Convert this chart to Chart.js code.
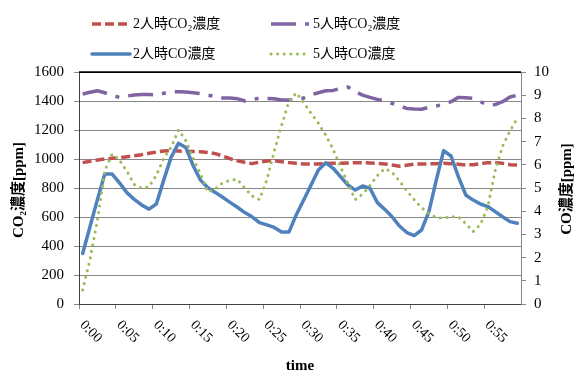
<!DOCTYPE html>
<html><head><meta charset="utf-8">
<script src="https://cdn.jsdelivr.net/npm/chart.js@4.4.1/dist/chart.umd.min.js"></script>
<style>html,body{margin:0;padding:0;background:#fff}</style>
</head><body>
<canvas id="c" width="575" height="374" style="width:575px;height:374px;display:block"></canvas>
<script>
// ---- data ----
const categories = ["0:00","0:01","0:02","0:03","0:04","0:05","0:06","0:07","0:08","0:09",
  "0:10","0:11","0:12","0:13","0:14","0:15","0:16","0:17","0:18","0:19",
  "0:20","0:21","0:22","0:23","0:24","0:25","0:26","0:27","0:28","0:29",
  "0:30","0:31","0:32","0:33","0:34","0:35","0:36","0:37","0:38","0:39",
  "0:40","0:41","0:42","0:43","0:44","0:45","0:46","0:47","0:48","0:49",
  "0:50","0:51","0:52","0:53","0:54","0:55","0:56","0:57","0:58","0:59"];
const xTickLabels = ["0:00","0:05","0:10","0:15","0:20","0:25","0:30","0:35","0:40","0:45","0:50","0:55"];
const leftTicks = [0,200,400,600,800,1000,1200,1400,1600];
const rightTicks = [0,1,2,3,4,5,6,7,8,9,10];

const seriesNames = ["2人時CO₂濃度","5人時CO₂濃度","2人時CO濃度","5人時CO濃度"];
const leftTitle = "CO₂濃度[ppm]";
const rightTitle = "CO濃度[ppm]";
const xTitle = "time";

const co2TwoPeople = [975,984,993,1000,1005,1009,1016,1023,1030,1039,
  1048,1055,1057,1055,1052,1052,1050,1045,1037,1021,
  1002,988,977,968,979,986,988,981,975,970,
  965,965,966,968,970,970,973,975,975,973,
  970,966,959,950,957,964,966,966,968,970,
  968,964,959,961,968,975,975,970,961,959];
const co2FivePeople = [1448,1460,1471,1457,1439,1425,1434,1441,1444,1444,
  1441,1453,1462,1464,1462,1457,1451,1441,1430,1420,
  1421,1416,1400,1409,1421,1418,1416,1407,1407,1412,
  1420,1443,1457,1471,1473,1487,1496,1464,1441,1425,
  1411,1402,1384,1366,1349,1345,1343,1356,1366,1377,
  1395,1425,1423,1418,1395,1372,1375,1395,1428,1440];
const coTwoPeople = [2.18,3.34,4.50,5.60,5.60,5.22,4.80,4.51,4.27,4.09,
  4.31,5.34,6.32,6.93,6.75,5.96,5.34,5.01,4.81,4.60,
  4.38,4.17,3.94,3.76,3.51,3.41,3.30,3.10,3.10,3.85,
  4.48,5.13,5.78,6.09,5.85,5.49,5.13,4.91,5.09,4.99,
  4.37,4.08,3.76,3.36,3.08,2.95,3.19,3.98,5.34,6.61,
  6.38,5.49,4.70,4.48,4.31,4.20,3.98,3.76,3.55,3.48];
const coFivePeople = [0.60,1.93,3.62,5.75,6.47,6.20,5.72,5.15,4.99,5.05,
  5.55,6.28,6.75,7.50,7.04,6.28,5.60,4.82,4.96,5.22,
  5.33,5.37,5.00,4.65,4.50,5.35,6.58,7.70,8.72,9.10,
  8.68,8.22,7.79,7.28,6.67,5.92,5.20,4.50,4.74,5.10,
  5.54,5.84,5.68,5.30,4.88,4.50,4.15,3.90,3.72,3.70,
  3.76,3.76,3.47,3.12,3.43,4.20,5.75,6.80,7.46,8.00];

// ---- styling ----
const SERIF = '"Liberation Serif", "Noto Sans CJK JP", serif';
const GRID = '#878787';

const legendPos = [
  {x0:92, x1:127, y:24, tx:133},
  {x0:271, x1:309, y:24, tx:313},
  {x0:92, x1:130, y:54, tx:133},
  {x0:271, x1:305, y:54, tx:313}
];

const overlay = {
  id: 'overlay',
  afterDraw(chart) {
    const ctx = chart.ctx;
    const xs = chart.scales.x;
    const area = chart.chartArea;
    // x tick labels rotated clockwise
    const half = (xs.getPixelForValue(1) - xs.getPixelForValue(0)) / 2;
    ctx.save();
    ctx.fillStyle = '#000';
    ctx.font = '14px ' + SERIF;
    ctx.textAlign = 'left';
    ctx.textBaseline = 'middle';
    xTickLabels.forEach(lbl => {
      const idx = categories.indexOf(lbl);
      const tx = xs.getPixelForValue(idx) - half;
      ctx.save();
      ctx.translate(tx + 3, 323);
      ctx.rotate(Math.PI / 4);
      ctx.fillText(lbl, 0, 0);
      ctx.restore();
    });
    ctx.restore();

    // axis titles
    ctx.save();
    ctx.fillStyle = '#000';
    ctx.font = 'bold 15px ' + SERIF;
    ctx.textAlign = 'center';
    ctx.textBaseline = 'middle';
    ctx.fillText(xTitle, 300, 366);
    ctx.save(); ctx.translate(19, 190); ctx.rotate(-Math.PI/2); ctx.fillText(leftTitle, 0, 0); ctx.restore();
    ctx.save(); ctx.translate(567, 189); ctx.rotate(-Math.PI/2); ctx.fillText(rightTitle, 0, 0); ctx.restore();
    ctx.restore();

    // top border of plot area
    ctx.save();
    ctx.strokeStyle = '#000';
    ctx.lineWidth = 1.5;
    ctx.beginPath();
    ctx.moveTo(area.left, area.top); ctx.lineTo(area.right, area.top);
    ctx.stroke();
    ctx.restore();

    // legend
    chart.data.datasets.forEach((ds, i) => {
      const p = legendPos[i];
      ctx.save();
      ctx.strokeStyle = ds.borderColor;
      ctx.lineWidth = ds.borderWidth;
      ctx.lineCap = ds.borderCapStyle || 'butt';
      ctx.setLineDash(ds.borderDash || []);
      ctx.beginPath();
      ctx.moveTo(p.x0, p.y); ctx.lineTo(p.x1, p.y);
      ctx.stroke();
      ctx.restore();
      ctx.save();
      ctx.fillStyle = '#000';
      ctx.font = '14px ' + SERIF;
      ctx.textAlign = 'left';
      ctx.textBaseline = 'middle';
      ctx.fillText(ds.label, p.tx, p.y);
      ctx.restore();
    });
  }
};

new Chart(document.getElementById('c'), {
  type: 'line',
  data: {
    labels: categories,
    datasets: [
      {label: seriesNames[0], data: co2TwoPeople, yAxisID: 'y', borderColor: '#C0504D', borderWidth: 3.5, borderDash: [9,4], borderCapStyle: 'butt', order: 4},
      {label: seriesNames[1], data: co2FivePeople, yAxisID: 'y', borderColor: '#8064A2', borderWidth: 3.5, borderDash: [25,9,4,9], borderCapStyle: 'butt', order: 3},
      {label: seriesNames[2], data: coTwoPeople, yAxisID: 'y1', borderColor: '#4F81BD', borderWidth: 3.5, borderCapStyle: 'round', order: 2},
      {label: seriesNames[3], data: coFivePeople, yAxisID: 'y1', borderColor: '#9BBB59', borderWidth: 3, borderDash: [0.1,6.5], borderCapStyle: 'round', order: 1}
    ]
  },
  options: {
    responsive: false,
    animation: false,
    devicePixelRatio: 1,
    layout: {padding: {top: 72, bottom: 0, left: 0, right: 0}},
    elements: {point: {radius: 0, hoverRadius: 0}, line: {tension: 0, fill: false, borderJoinStyle: 'round'}},
    plugins: {legend: {display: false}, tooltip: {enabled: false}, title: {display: false}},
    scales: {
      x: {
        type: 'category',
        offset: true,
        ticks: {display: false, autoSkip: false},
        grid: {display: true, drawOnChartArea: false, drawTicks: true, tickLength: 5, offset: true,
               tickColor: c => (c.index % 5 === 0) ? GRID : 'rgba(0,0,0,0)'},
        border: {display: true, color: '#404040', width: 1},
        afterFit(s) { s.height = 70; }
      },
      y: {
        position: 'left', min: 0, max: 1600,
        afterBuildTicks(s) { s.ticks = leftTicks.map(v => ({value: v})); },
        ticks: {font: {family: SERIF, size: 15}, color: '#000', padding: 10, callback: v => String(v)},
        grid: {color: c => (c.tick && c.tick.value === 1600) ? '#000' : GRID, lineWidth: 1, tickLength: 5, tickColor: GRID},
        border: {display: true, color: '#404040', width: 1},
        afterFit(s) { s.width = 79; }
      },
      y1: {
        position: 'right', min: 0, max: 10,
        afterBuildTicks(s) { s.ticks = rightTicks.map(v => ({value: v})); },
        ticks: {font: {family: SERIF, size: 15}, color: '#000', padding: 8, callback: v => String(v)},
        grid: {drawOnChartArea: false, tickLength: 5, tickColor: GRID},
        border: {display: true, color: GRID, width: 1},
        afterFit(s) { s.width = 54; }
      }
    }
  },
  plugins: [overlay]
});
</script>
</body></html>
